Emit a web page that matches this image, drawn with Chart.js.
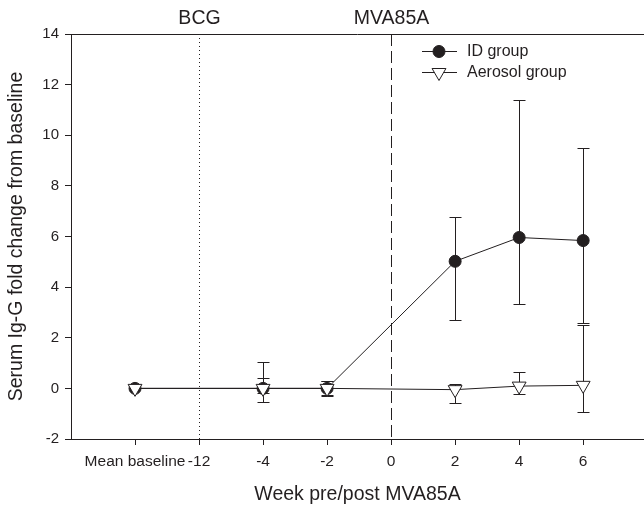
<!DOCTYPE html>
<html>
<head>
<meta charset="utf-8">
<script src="https://cdn.jsdelivr.net/npm/chart.js@4"></script>
<style>
  html, body { margin: 0; padding: 0; background: #fff; overflow: hidden; }
  #wrap { width: 644px; height: 506px; }
</style>
</head>
<body>
<div id="wrap"><canvas id="myChart" width="644" height="506"></canvas></div>
<script>
"use strict"
// x categories (week pre/post MVA85A)
const xLabels = ['Mean baseline', '-12', '-4', '-2', '0', '2', '4', '6'];
// indices of the categories where both groups were measured
const sampleIdx = [0, 2, 3, 5, 6, 7];

// ID group: mean and ends of error bars
const idMean  = [0, 0, 0, 5.02, 5.96, 5.84];
const idUpper = [0, 0.42, 0.3, 6.77, 11.38, 9.5];
const idLower = [0, -0.55, -0.28, 2.69, 3.35, 2.6];

// Aerosol group
const aeroMean  = [0, 0, 0, -0.05, 0.09, 0.12];
const aeroUpper = [0, 1.05, 0.28, 0.16, 0.64, 2.49];
const aeroLower = [0, -0.2, -0.3, -0.58, -0.21, -0.94];

// y ticks
const yTicks = [-2, 0, 2, 4, 6, 8, 10, 12, 14];

// vertical markers on top
const eventLines = [
    { label: 'BCG', at: 1, dash: [1, 3] },
    { label: 'MVA85A', at: 4, dash: [12, 5] }
];

const FONT = "'Liberation Sans', Arial, sans-serif";
const INK = '#231f20';

function toPoints(means) {
    return means.map((v, i) => ({ x: sampleIdx[i], y: v }));
}

// error bars, event lines, top border and legend
const extras = {
    id: 'extras',
    beforeDatasetsDraw(chart) {
        const ctx = chart.ctx;
        const xs = chart.scales.x, ys = chart.scales.y;
        const area = chart.chartArea;
        ctx.save();
        // top frame line
        ctx.strokeStyle = INK;
        ctx.lineWidth = 1;
        ctx.beginPath();
        ctx.moveTo(area.left, Math.round(area.top) + 0.5);
        ctx.lineTo(area.right, Math.round(area.top) + 0.5);
        ctx.stroke();
        // event lines
        eventLines.forEach(ev => {
            const px = Math.round(xs.getPixelForValue(ev.at)) + 0.5;
            ctx.setLineDash(ev.dash);
            ctx.beginPath();
            ctx.moveTo(px, area.top);
            ctx.lineTo(px, area.bottom);
            ctx.stroke();
            ctx.setLineDash([]);
            ctx.fillStyle = INK;
            ctx.font = '19.5px ' + FONT;
            ctx.textAlign = 'center';
            ctx.textBaseline = 'middle';
            ctx.fillText(ev.label, px, 19);
        });
        // error bars
        const bars = [[idUpper, idLower], [aeroUpper, aeroLower]];
        bars.forEach(([up, lo]) => {
            sampleIdx.forEach((xi, i) => {
                if (up[i] === lo[i]) return;
                const px = Math.round(xs.getPixelForValue(xi)) + 0.5;
                const yU = Math.round(ys.getPixelForValue(up[i])) + 0.5;
                const yL = Math.round(ys.getPixelForValue(lo[i])) + 0.5;
                ctx.beginPath();
                ctx.moveTo(px, yU); ctx.lineTo(px, yL);
                ctx.moveTo(px - 6, yU); ctx.lineTo(px + 6, yU);
                ctx.moveTo(px - 6, yL); ctx.lineTo(px + 6, yL);
                ctx.stroke();
            });
        });
        ctx.restore();
    },
    afterDraw(chart) {
        const ctx = chart.ctx;
        const items = [chart.data.datasets[1], chart.data.datasets[0]];
        ctx.save();
        items.forEach((ds, i) => {
            const y = 51 + i * 21;
            ctx.strokeStyle = INK;
            ctx.lineWidth = 1;
            ctx.beginPath();
            ctx.moveTo(422, y + 0.5);
            ctx.lineTo(457, y + 0.5);
            ctx.stroke();
            ctx.fillStyle = ds.pointBackgroundColor;
            ctx.strokeStyle = INK;
            Chart.helpers.drawPoint(ctx, {
                pointStyle: ds.pointStyle,
                rotation: ds.pointRotation || 0,
                radius: ds.pointRadius,
                borderWidth: 1
            }, 439, y + 0.5);
            ctx.fillStyle = INK;
            ctx.font = '16px ' + FONT;
            ctx.textAlign = 'left';
            ctx.textBaseline = 'middle';
            ctx.fillText(ds.label, 467, y + 1);
        });
        ctx.restore();
    }
};

const config = {
    type: 'line',
    data: {
        datasets: [
            {
                label: 'Aerosol group',
                data: toPoints(aeroMean),
                borderColor: INK,
                borderWidth: 1,
                pointStyle: 'triangle',
                pointRotation: 180,
                pointRadius: 8,
                pointBackgroundColor: '#ffffff',
                pointBorderColor: INK,
                pointBorderWidth: 1,
                tension: 0,
                order: 0
            },
            {
                label: 'ID group',
                data: toPoints(idMean),
                borderColor: INK,
                borderWidth: 1,
                pointStyle: 'circle',
                pointRadius: 6,
                pointBackgroundColor: INK,
                pointBorderColor: INK,
                pointBorderWidth: 1,
                tension: 0,
                order: 1
            }
        ]
    },
    options: {
        responsive: false,
        animation: false,
        layout: { autoPadding: false, padding: { top: 34, right: 0, left: 0, bottom: 0 } },
        plugins: { legend: { display: false }, tooltip: { enabled: false } },
        scales: {
            x: {
                type: 'linear',
                min: -1,
                max: 7.95,
                afterBuildTicks: (scale) => { scale.ticks = xLabels.map((_, i) => ({ value: i })); },
                afterFit: (scale) => {
                    scale.height = 67;
                    scale.paddingLeft = 0;
                    scale.paddingRight = 0;
                },
                ticks: {
                    autoSkip: false,
                    maxRotation: 0,
                    padding: 7,
                    color: INK,
                    font: { family: FONT, size: 15.5 },
                    callback: (v) => xLabels[v]
                },
                grid: { drawOnChartArea: false, drawTicks: true, tickLength: 6, tickColor: INK },
                border: { display: true, color: INK, width: 1 },
                title: {
                    display: true,
                    text: 'Week pre/post MVA85A',
                    color: INK,
                    font: { family: FONT, size: 19.5 },
                    padding: { top: 0, bottom: 0 }
                }
            },
            y: {
                min: -2,
                max: 14,
                afterBuildTicks: (scale) => { scale.ticks = yTicks.map(v => ({ value: v })); },
                afterFit: (scale) => {
                    scale.width = 71;
                    scale.paddingTop = 0;
                    scale.paddingBottom = 0;
                },
                ticks: {
                    padding: 6,
                    color: INK,
                    font: { family: FONT, size: 15 }
                },
                grid: { drawOnChartArea: false, drawTicks: true, tickLength: 6, tickColor: INK },
                border: { display: true, color: INK, width: 1 },
                title: {
                    display: true,
                    text: 'Serum Ig-G fold change from baseline',
                    color: INK,
                    font: { family: FONT, size: 19.5 },
                    padding: { top: 5, bottom: 0 }
                }
            }
        }
    },
    plugins: [extras]
};

const my_chart = new Chart(document.getElementById('myChart'), config);
</script>
</body>
</html>
